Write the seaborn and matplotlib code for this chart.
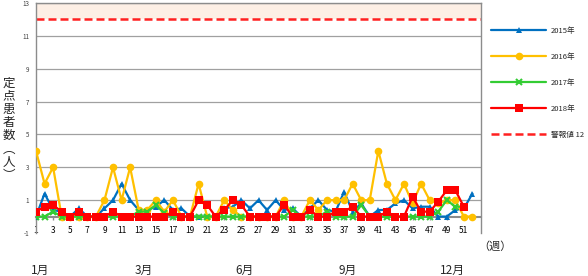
import numpy as np
import pandas as pd
import matplotlib
matplotlib.use("Agg")
import matplotlib.pyplot as plt
import seaborn as sns
from matplotlib.transforms import blended_transform_factory

# ---------------- data ----------------
weeks = list(range(1, 53))
y2015 = [0, 1.4, 0.4, 0.3, 0, 0.5, 0, 0, 0.5, 1.0,
         2.0, 1.0, 0.4, 0.4, 0.6, 1.0, 0.4, 0.5, 0, 0,
         0, 0, 0.5, 0.6, 1.0, 0.5, 1.0, 0.4, 1.0, 0.4,
         0.5, 0, 0.5, 1.0, 0.4, 0.3, 1.5, 0.3, 0.8, 0,
         0.4, 0.4, 0.8, 1.0, 0.5, 0.6, 0.6, 0, 0, 0.4,
         0.5, 1.4]
y2016 = [4, 2, 3, 0, 0, 0, 0, 0, 1, 3,
         1, 3, 0.4, 0.4, 1, 0.3, 1, 0, 0, 2,
         0, 0, 1, 0.4, 0, 0, 0, 0, 0, 1,
         0, 0, 1, 0.4, 1, 1, 1, 2, 1, 1,
         4, 2, 1, 2, 0.8, 2, 1, 0.8, 1, 1,
         0, 0]
y2017 = [0, 0, 0.3, 0, 0, 0, 0, 0, 0, 0,
         0, 0, 0.3, 0.3, 0.7, 0.2, 0, 0, 0, 0,
         0, 0, 0, 0, 0, 0, 0, 0, 0, 0,
         0.4, 0, 0, 0, 0.3, 0, 0, 0, 0.7, 0,
         0, 0, 0, 0, 0, 0, 0, 0.3, 1.0, 0.6,
         0.6, np.nan]
y2018 = [0.3, 0.6, 0.7, 0.3, 0, 0.3, 0, 0, 0, 0.3,
         0, 0, 0, 0, 0, 0, 0.3, 0, 0, 1.0,
         0.7, 0, 0.4, 1.0, 0.7, 0, 0, 0, 0, 0.7,
         0, 0, 0.4, 0, 0, 0.3, 0.3, 0.6, 0, 0,
         0, 0.3, 0, 0, 1.2, 0.3, 0.3, 0.9, 1.6, 1.6,
         0.6, np.nan]
alarm_level = 12
series_labels = ["2015年", "2016年", "2017年", "2018年"]
alarm_label = "警報値 12"
week_ticks = list(range(1, 52, 2))
y_ticks = list(range(-1, 14, 2))
month_labels = ["1月", "3月", "6月", "9月", "12月"]
month_weeks = [1.5, 13.6, 25.4, 37.4, 49.7]
ylabel_chars = ["定", "点", "患", "者", "数", "︵", "人", "︶"]

# ---------------- style ----------------
sns.set_style("white")
plt.rcParams["font.family"] = ["Noto Sans CJK JP", "DejaVu Sans"]

W, H = 588, 276
fig = plt.figure(figsize=(W / 100, H / 100), dpi=100)
ax = fig.add_axes([36 / W, 43 / H, 445 / W, 230 / H])

ax.set_xlim(1, 53)
ax.set_ylim(-1, 13)

# alarm band and line
ax.axhspan(alarm_level, 13, color="#FDEFE5", zorder=0, lw=0)

colors = ["#0070C0", "#FFC000", "#33CC33", "#FF0000"]
markers = ["^", "o", "x", "s"]
msizes = [4.5, 5.5, 4.5, 5.5]
mews = [0, 0, 1.5, 0]
for vals, lab, c, m, ms, mew in zip([y2015, y2016, y2017, y2018], series_labels,
                                     colors, markers, msizes, mews):
    df = pd.DataFrame({"week": weeks, "value": vals}).dropna()
    sns.lineplot(data=df, x="week", y="value", ax=ax, color=c, marker=m,
                 markersize=ms, markeredgewidth=mew, markeredgecolor=c,
                 lw=1.6, label=lab, zorder=3)

ax.axhline(alarm_level, color="#FF2020", lw=1.8, ls=(0, (3.2, 1.6)),
           label=alarm_label, zorder=2)

# grid
ax.set_yticks(y_ticks)
ax.set_yticklabels([str(v) for v in y_ticks])
ax.yaxis.grid(True, color="#a0a0a0", lw=0.9)
ax.get_ygridlines()[0].set_visible(False)
ax.xaxis.grid(False)
ax.tick_params(axis="y", length=0, pad=5, labelsize=4.5, labelcolor="#404040")

# x axis at zero
ax.spines["bottom"].set_position(("data", 0))
ax.spines["bottom"].set_color("#8c8c8c")
ax.spines["bottom"].set_linewidth(1.5)
ax.spines["bottom"].set_zorder(1)
for s in ["left", "right", "top"]:
    ax.spines[s].set_color("#8c8c8c")
    ax.spines[s].set_linewidth(1.0)
ax.set_xticks(week_ticks)
ax.set_xticklabels([str(w) for w in week_ticks])
ax.tick_params(axis="x", direction="out", length=2.5, width=1, color="#8c8c8c",
               pad=4.5, labelsize=6, labelcolor="#000000", bottom=True)
ax.set_xlabel("")
ax.set_ylabel("")

# month labels
trans = blended_transform_factory(ax.transData, fig.transFigure)
for mw, ml in zip(month_weeks, month_labels):
    ax.text(mw, 1 - 270 / H, ml, transform=trans, ha="center", va="center",
            fontsize=8.5)

fig.text(495 / W, 1 - 247 / H, "（週）", ha="center", va="center", fontsize=8)

fig.text(9 / W, 1 - 129 / H, "\n".join(ylabel_chars), ha="center", va="center",
         fontsize=9, linespacing=1.02)

# legend
handles, labels = ax.get_legend_handles_labels()
ax.legend(handles, labels, loc="upper left", bbox_to_anchor=(491 / W, 1 - 27 / H),
          bbox_transform=fig.transFigure, frameon=False, fontsize=5.5,
          handlelength=7.2, labelspacing=2.35, handletextpad=0.6, borderaxespad=0,
          borderpad=0)

fig.savefig("out.png", dpi=100)
